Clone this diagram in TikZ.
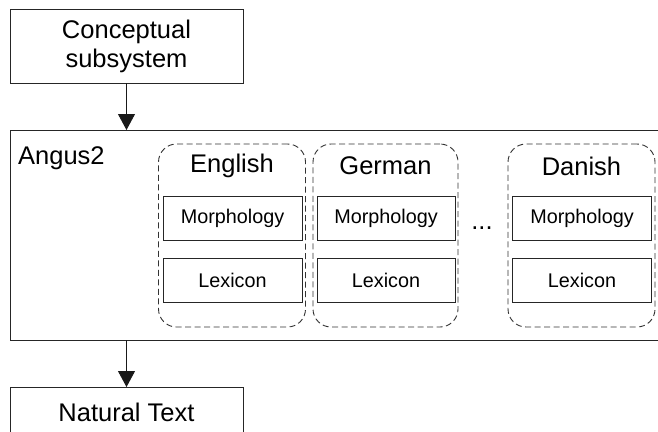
\documentclass[tikz,border=0pt]{standalone}
\usepackage{fontspec}
\setmainfont{Liberation Sans}
\usetikzlibrary{arrows.meta,calc}
\begin{document}
\begin{tikzpicture}[x=1pt,y=-1pt,
  box/.style={draw=black!85,line width=0.9pt,rectangle,inner sep=0pt,outer sep=0pt},
  bigtext/.style={font=\fontsize{25.5}{29}\selectfont},
  smalltext/.style={font=\fontsize{19.8}{23}\selectfont},
  langgroup/.style={draw=black!80,line width=0.9pt,dashed,dash pattern=on 6pt off 3.5pt,rounded corners=18pt,rectangle,inner sep=0pt,outer sep=0pt,minimum width=147pt,minimum height=183pt},
  subbox/.style={box,minimum width=139pt,minimum height=44pt,smalltext},
  flow/.style={draw=black!90,line width=0.9pt,-{Triangle[length=16pt,width=17pt]}}]
\useasboundingbox (0,0) rectangle (658,431);
% top box
\node[box,minimum width=233pt,minimum height=74pt,bigtext,align=center] (concept) at (126.5,46) {Conceptual\\subsystem};
% big Angus2 box (right edge outside the picture)
\node[box,minimum width=680pt,minimum height=210pt] (angus) at (350,235) {};
\node[bigtext,anchor=west,inner sep=0pt] (anguslabel) at (18,158) {Angus2};
% language groups
\node[langgroup] (eng) at (232,235.5) {};
\node[langgroup,minimum width=145pt] (ger) at (385.5,235.5) {};
\node[langgroup] (dan) at (581.5,235.5) {};
\node[bigtext,inner sep=0pt] (engt) at (232,166) {English};
\node[bigtext,inner sep=0pt] (gert) at (385.5,166) {German};
\node[bigtext,inner sep=0pt] (dant) at (581.5,166) {Danish};
\node[subbox] (engm) at (232.5,218) {Morphology};
\node[subbox] (engl) at (232.5,280) {Lexicon};
\node[subbox,minimum width=138pt] (germ) at (386,218) {Morphology};
\node[subbox,minimum width=138pt] (gerl) at (386,280) {Lexicon};
\node[subbox] (danm) at (582,218) {Morphology};
\node[subbox] (danl) at (582,280) {Lexicon};
\node[bigtext,inner sep=0pt] (dots) at (482,228) {...};
% bottom box
\node[box,minimum width=233pt,minimum height=74pt,bigtext,anchor=north] (natural) at (126.5,387) {};
\node[bigtext,inner sep=0pt] (naturalt) at (126.5,412) {Natural Text};
% arrows
\draw[flow] (concept.south) -- (concept.south |- angus.north);
\draw[flow] (concept.south |- angus.south) -- (natural.north);
\end{tikzpicture}
\end{document}
